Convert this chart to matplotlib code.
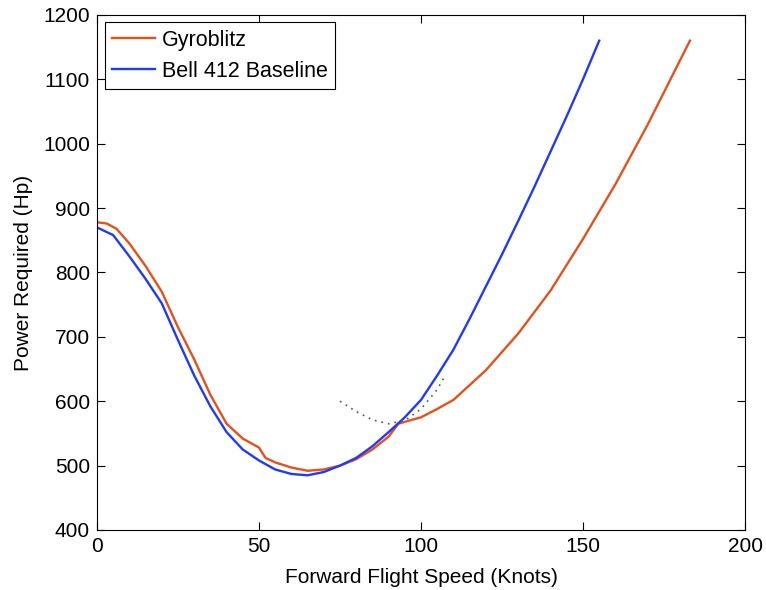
import numpy as np
import matplotlib
matplotlib.use("Agg")
from matplotlib import pyplot as plt

plt.rcParams['font.family'] = ['Liberation Sans', 'DejaVu Sans']

# Gyroblitz
gyro_x = [0, 3, 6, 10, 15, 20, 25, 30, 35, 40, 45, 50, 52, 55, 60, 65, 70, 75, 80, 85, 90, 93,
          95, 100, 105, 110, 115, 120, 130, 140, 150, 160, 170, 183]
gyro_y = [878, 876, 868, 845, 810, 770, 715, 665, 610, 565, 542, 528, 512, 505, 497, 492, 494, 500,
          510, 525, 545, 565, 568, 575, 588, 602, 625, 648, 705, 772, 852, 937, 1030, 1160]

# Bell 412 baseline
bell_x = [0, 5, 10, 15, 20, 25, 30, 35, 40, 45, 50, 55, 60, 65, 70, 75, 80, 85, 90, 95,
          100, 105, 110, 115, 120, 125, 130, 135, 140, 145, 150, 155]
bell_y = [870, 858, 825, 790, 752, 695, 640, 592, 552, 525, 508, 494, 487, 485, 490, 500,
          512, 530, 552, 575, 602, 640, 680, 728, 778, 828, 880, 933, 988, 1043, 1100, 1160]

# dotted curve
dot_x = [75, 80, 85, 90, 95, 100, 105, 107]
dot_y = [600, 584, 571, 565, 570, 588, 618, 636]

fig = plt.figure(figsize=(7.66, 5.9), dpi=100)
ax = fig.add_axes([0.1266, 0.1017, 0.846, 0.873])

ax.plot(gyro_x, gyro_y, color='#E8501A', lw=1.7, label='Gyroblitz')
ax.plot(bell_x, bell_y, color='#1F3AFF', lw=1.7, label='Bell 412 Baseline')
ax.plot(dot_x, dot_y, color='#555555', lw=1.2, ls=(0, (1, 3)))

ax.set_xlim(0, 200)
ax.set_ylim(400, 1200)
ax.set_xticks([0, 50, 100, 150, 200])
ax.set_yticks(np.arange(400, 1201, 100))
ax.tick_params(direction='in', top=True, right=True, labelsize=15, length=6, pad=5)
ax.set_xlabel('Forward Flight Speed (Knots)', fontsize=15, labelpad=9)
ax.set_ylabel('Power Required (Hp)', fontsize=15, labelpad=7)

leg = ax.legend(loc='upper left', fontsize=15.5, fancybox=False, edgecolor='black',
                framealpha=1, handlelength=2.0, handletextpad=0.3, borderpad=0.35,
                labelspacing=0.45, borderaxespad=0.35)
leg.get_frame().set_linewidth(0.8)

plt.savefig('out.png', dpi=100)
